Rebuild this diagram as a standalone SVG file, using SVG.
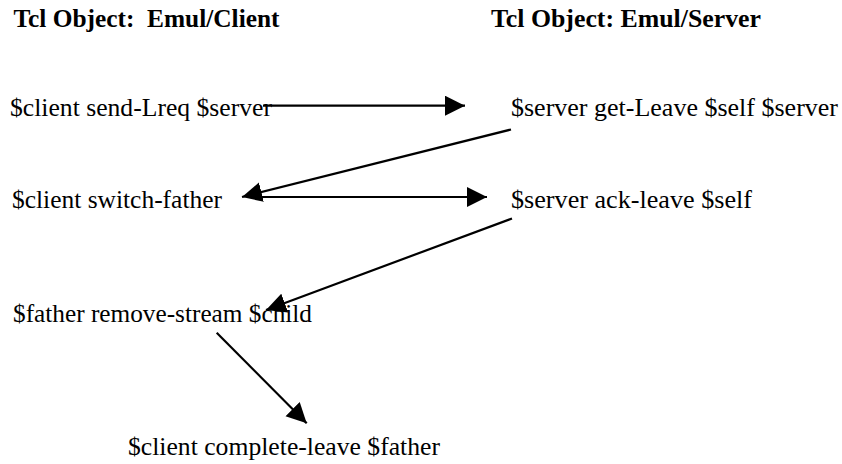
<svg xmlns="http://www.w3.org/2000/svg" width="842" height="464" viewBox="0 0 842 464">
<style>
.t{font-family:"Liberation Serif","Times New Roman",serif;font-size:25.5px;fill:#000}
.h{font-family:"Liberation Serif","Times New Roman",serif;font-size:25px;font-weight:bold;fill:#000;white-space:pre}
.c{stroke:#000;stroke-width:2.2;fill:none;marker-end:url(#ah)}
</style>
<defs>
<marker id="ah" markerUnits="userSpaceOnUse" markerWidth="22" markerHeight="22" refX="20" refY="10" orient="auto">
<path d="M0,0 L20,10 L0,20 Z" fill="#000"/>
</marker>
</defs>
<rect width="842" height="464" fill="#fff"/>
<g id="title-client"><text class="h" x="13.5" y="27" textLength="266" lengthAdjust="spacingAndGlyphs" xml:space="preserve">Tcl Object:  Emul/Client</text></g>
<g id="title-server"><text class="h" x="491" y="27" textLength="270" lengthAdjust="spacingAndGlyphs">Tcl Object: Emul/Server</text></g>
<g id="n1"><text class="t" x="10" y="116" textLength="262" lengthAdjust="spacingAndGlyphs">$client send-Lreq $server</text></g>
<g id="n2"><text class="t" x="511" y="116" textLength="327" lengthAdjust="spacingAndGlyphs">$server get-Leave $self $server</text></g>
<g id="n3"><text class="t" x="12" y="208" textLength="210" lengthAdjust="spacingAndGlyphs">$client switch-father</text></g>
<g id="n4"><text class="t" x="511" y="208" textLength="241" lengthAdjust="spacingAndGlyphs">$server ack-leave $self</text></g>
<g id="n5"><text class="t" x="13" y="322" textLength="299" lengthAdjust="spacingAndGlyphs">$father remove-stream $child</text></g>
<g id="n6"><text class="t" x="128" y="455" textLength="312" lengthAdjust="spacingAndGlyphs">$client complete-leave $father</text></g>
<g id="connectors">
<line class="c" x1="263" y1="105.7" x2="465" y2="105.7"/>
<line class="c" x1="511" y1="129.5" x2="242" y2="197"/>
<line class="c" x1="262" y1="197" x2="487" y2="197"/>
<line class="c" x1="512" y1="218.5" x2="266" y2="310"/>
<line class="c" x1="216.7" y1="332.7" x2="306.7" y2="423.3"/>
</g>
</svg>
